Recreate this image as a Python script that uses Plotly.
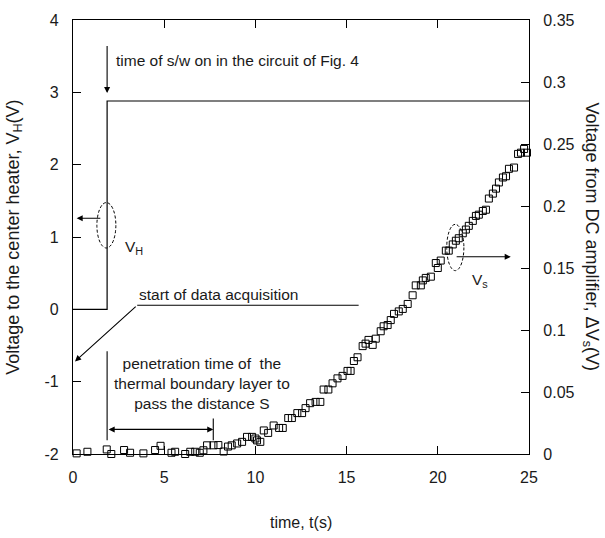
import plotly.graph_objects as go

# Heater voltage V_H (left axis): switch-on step
t_vh = [0.0, 1.87, 1.87, 25.0]
v_h = [0.0, 0.0, 2.88, 2.88]

# DC amplifier output ΔV_s (right axis)
t_s = [0.20, 0.79, 1.20, 1.48, 1.85, 2.10, 2.50, 2.80, 3.13, 3.50, 3.86, 4.23, 4.50, 4.80,
       5.15, 5.40, 5.60, 5.88, 6.15, 6.43, 6.70, 6.95, 7.15, 7.35, 7.70, 7.97, 8.26, 8.50,
       8.70, 9.00, 9.27, 9.54, 9.82, 10.00, 10.09, 10.27, 10.46, 10.70, 11.00, 11.30, 11.50,
       11.80, 12.00, 12.30, 12.56, 12.75, 13.00, 13.30, 13.56, 13.74, 14.00, 14.23, 14.50,
       14.78, 15.05, 15.22, 15.40, 15.60, 15.88, 16.04, 16.20, 16.43, 16.60, 16.87, 17.03,
       17.25, 17.42, 17.60, 17.86, 18.08, 18.35, 18.62, 18.79, 19.07, 19.18, 19.34, 19.62,
       19.89, 20.00, 20.16, 20.44, 20.60, 20.82, 20.99, 21.15, 21.37, 21.54, 21.70, 21.92,
       22.09, 22.25, 22.47, 22.64, 22.80, 23.02, 23.19, 23.35, 23.57, 23.74, 23.90, 24.18,
       24.40, 24.56, 24.73, 24.89]
v_s = [0.0005, 0.0018, -0.0021, -0.0008, 0.0037, 0.0000, -0.0008, 0.0032, 0.0010, -0.0008,
       0.0005, -0.0008, 0.0032, 0.0066, -0.0008, 0.0010, 0.0018, -0.0021, 0.0000, 0.0018,
       0.0018, 0.0010, 0.0030, 0.0070, 0.0070, 0.0072, 0.0020, 0.0060, 0.0070, 0.0085,
       0.0098, 0.0138, 0.0138, 0.0125, 0.0110, 0.0098, 0.0190, 0.0170, 0.0230, 0.0210,
       0.0210, 0.0290, 0.0290, 0.0330, 0.0330, 0.0370, 0.0410, 0.0420, 0.0420, 0.0520,
       0.0520, 0.0570, 0.0610, 0.0630, 0.0670, 0.0670, 0.0750, 0.0780, 0.0870, 0.0890,
       0.0920, 0.0880, 0.0930, 0.0990, 0.1030, 0.1040, 0.1080, 0.1130, 0.1150, 0.1170,
       0.1210, 0.1280, 0.1360, 0.1360, 0.1400, 0.1420, 0.1430, 0.1540, 0.1500, 0.1560,
       0.1640, 0.1640, 0.1690, 0.1720, 0.1740, 0.1780, 0.1810, 0.1840, 0.1880, 0.1920,
       0.1930, 0.1960, 0.1970, 0.2060, 0.2100, 0.2140, 0.2190, 0.2230, 0.2240, 0.2300,
       0.2310, 0.2420, 0.2430, 0.2460, 0.2430]

# Axis ticks
x_ticks = [0, 5, 10, 15, 20, 25]
x_labels = ["0", "5", "10", "15", "20", "25"]
y_ticks = [-2, -1, 0, 1, 2, 3, 4]
y_labels = ["-2", "-1", "0", "1", "2", "3", "4"]
y2_ticks = [0, 0.05, 0.1, 0.15, 0.2, 0.25, 0.3, 0.35]
y2_labels = ["0", "0.05", "0.1", "0.15", "0.2", "0.25", "0.3", "0.35"]

FONT = "Liberation Sans, Arial, sans-serif"
INK = "#1a1a1a"

fig = go.Figure()
fig.add_trace(go.Scatter(x=t_vh, y=v_h, mode="lines", yaxis="y",
                         line=dict(color="black", width=1.2), showlegend=False,
                         hoverinfo="skip"))
fig.add_trace(go.Scatter(x=t_s, y=v_s, mode="markers", yaxis="y2",
                         marker=dict(symbol="square-open", size=7, color="black",
                                     line=dict(width=1, color="black")),
                         cliponaxis=False, showlegend=False))

axis_common = dict(showline=True, linecolor="black", linewidth=1.3, ticks="inside",
                   ticklen=8, tickwidth=1.2, tickcolor="black", showgrid=False,
                   zeroline=False, tickfont=dict(family=FONT, size=16, color=INK))

fig.update_layout(
    width=605, height=538,
    margin=dict(l=73, r=76, t=14, b=84),
    paper_bgcolor="white", plot_bgcolor="white",
    xaxis=dict(range=[0, 25], tickvals=x_ticks, ticktext=x_labels, mirror="ticks",
               ticklabelstandoff=9, **axis_common),
    yaxis=dict(range=[-2, 4], tickvals=y_ticks, ticktext=y_labels,
               ticklabelstandoff=10, **axis_common),
    yaxis2=dict(range=[0, 0.35], tickvals=y2_ticks, ticktext=y2_labels, overlaying="y",
                side="right", ticklabelstandoff=10, **axis_common),
)

text_font = dict(family=FONT, size=15.5, color=INK)
title_font = dict(family=FONT, size=18, color=INK)

annotations = [
    # axis titles
    dict(text="Voltage to the center heater, V<sub>H</sub>(V)", xref="paper", yref="paper",
         x=-0.13, y=0.5, textangle=-90, showarrow=False, font=title_font,
         xanchor="center", yanchor="middle"),
    dict(text="Voltage from DC amplifier, ΔV<sub>s</sub>(V)", xref="paper", yref="paper",
         x=1.137, y=0.5, textangle=90, showarrow=False, font=title_font,
         xanchor="center", yanchor="middle"),
    dict(text="time, t(s)", xref="paper", yref="paper", x=0.5, y=-0.157,
         showarrow=False, font=dict(family=FONT, size=16, color=INK),
         xanchor="center", yanchor="middle"),
    # labels
    dict(text="time of s/w on in the circuit of Fig. 4", x=2.25, y=3.44, xref="x", yref="y",
         showarrow=False, font=text_font, xanchor="left", yanchor="middle"),
    dict(text="V<sub>H</sub>", x=2.72, y=0.85, xref="x", yref="y",
         showarrow=False, font=text_font, xanchor="left", yanchor="middle"),
    dict(text="start of data acquisition", x=3.52, y=0.21, xref="x", yref="y",
         showarrow=False, font=text_font, xanchor="left", yanchor="middle"),
    dict(text="penetration time of  the<br>thermal boundary layer to<br>pass the distance S",
         x=7.09, y=-1.03, xref="x", yref="y", showarrow=False, font=text_font,
         xanchor="center", yanchor="middle", align="center"),
    dict(text="V<sub>s</sub>", x=21.74, y=0.40, xref="x", yref="y",
         showarrow=False, font=text_font, xanchor="left", yanchor="middle"),
]

arrow_style = dict(text="", showarrow=True, arrowhead=2, arrowsize=1.1, arrowwidth=1.1,
                   arrowcolor="black", xref="x", yref="y", axref="x", ayref="y",
                   standoff=0, startstandoff=0)
arrows = [
    dict(x=1.87, y=2.99, ax=1.87, ay=3.66),
    dict(x=0.20, y=1.26, ax=1.58, ay=1.26),
    dict(x=0.11, y=-0.72, ax=3.52, ay=0.057),
    dict(x=7.69, y=-1.66, ax=1.87, ay=-1.66, arrowside="end+start"),
    dict(x=24.0, y=0.726, ax=20.95, ay=0.726),
]
for a in arrows:
    annotations.append({**arrow_style, **a})

fig.update_layout(annotations=annotations)

line_style = dict(color="black", width=1.1)
ring_style = dict(color="black", width=1, dash="3px,2px")
shapes = [
    dict(type="line", xref="x", yref="y", x0=3.52, y0=0.057, x1=15.66, y1=0.057, line=line_style),
    dict(type="line", xref="x", yref="y", x0=1.87, y0=-0.58, x1=1.87, y1=-1.81, line=line_style),
    dict(type="line", xref="x", yref="y", x0=7.69, y0=-1.51, x1=7.69, y1=-1.81, line=line_style),
    dict(type="circle", xref="x", yref="y", x0=1.31, x1=2.35, y0=0.848, y1=1.476, line=ring_style),
    dict(type="circle", xref="x", yref="y", x0=20.49, x1=21.43, y0=0.535, y1=1.175, line=ring_style),
]
fig.update_layout(shapes=shapes)

fig.write_html("out.html")
